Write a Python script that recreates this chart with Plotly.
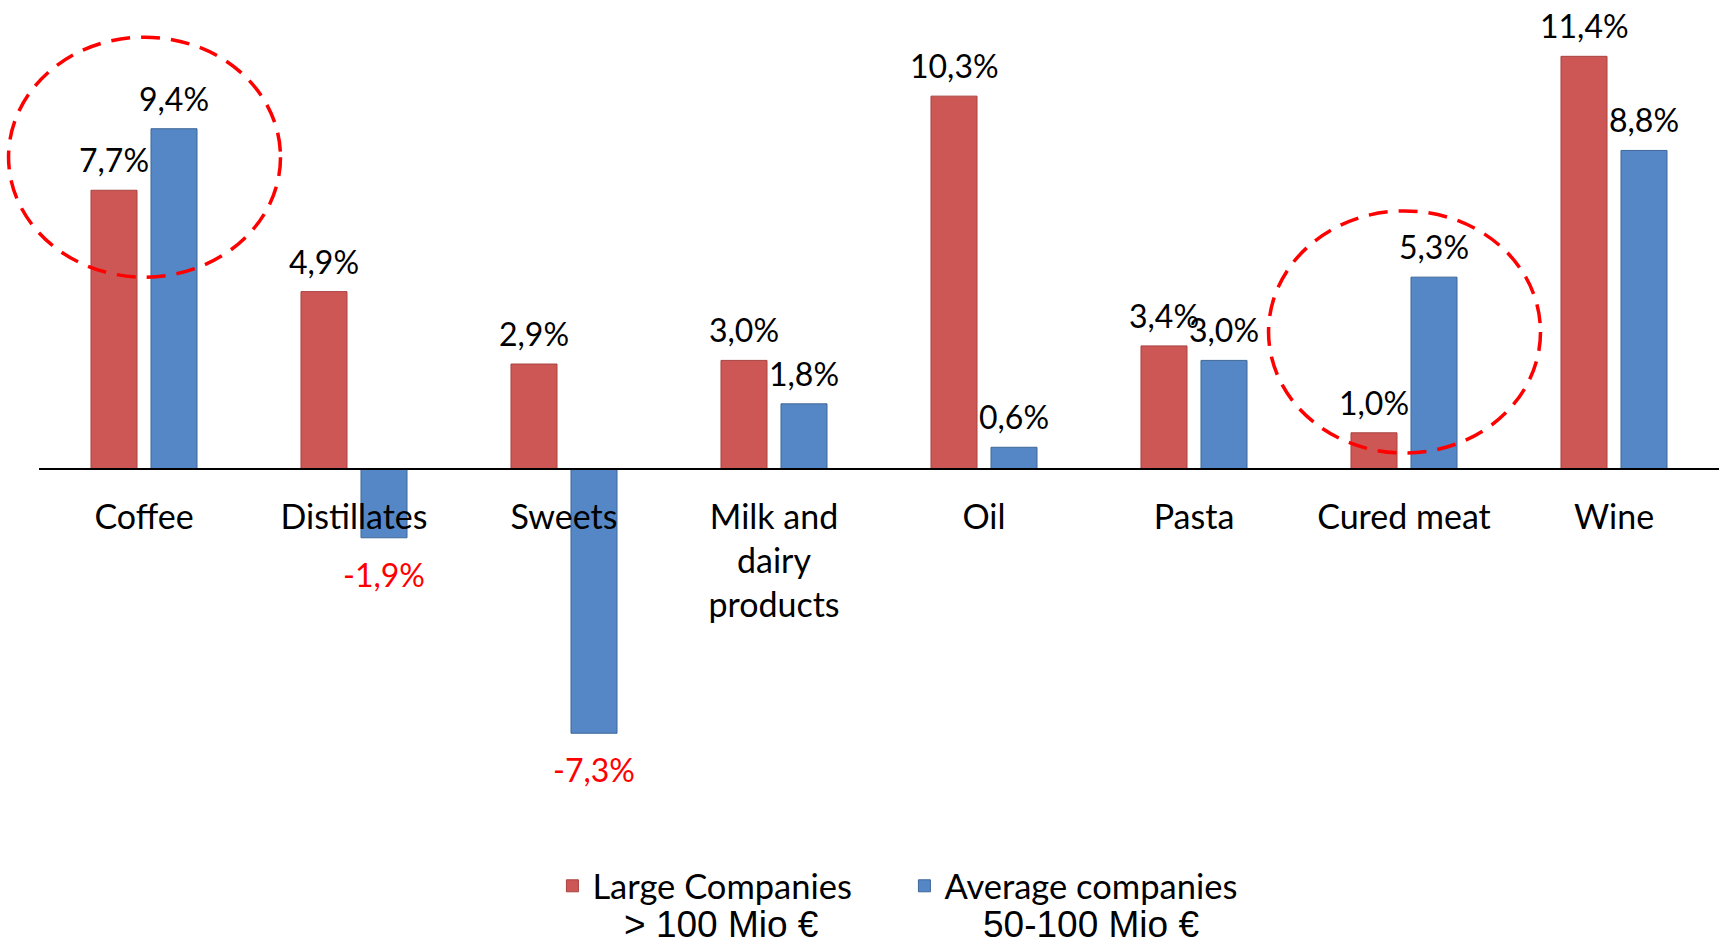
import plotly.graph_objects as go

# ---- data ----
categories = ["Coffee", "Distillates", "Sweets", "Milk and dairy products",
              "Oil", "Pasta", "Cured meat", "Wine"]
tick_labels = ["Coffee", "Distillates", "Sweets", "Milk and<br>dairy<br>products",
               "Oil", "Pasta", "Cured meat", "Wine"]
large_companies = [7.7, 4.9, 2.9, 3.0, 10.3, 3.4, 1.0, 11.4]
average_companies = [9.4, -1.9, -7.3, 1.8, 0.6, 3.0, 5.3, 8.8]
series_names = ["Large Companies", "Average companies"]
series_sub = ["> 100 Mio €", "50-100 Mio €"]
highlight = ["Coffee", "Cured meat"]

# ---- style ----
FONT = "Lato, Carlito, Calibri, sans-serif"
RED = "#CD5755"
BLUE = "#5586C5"
W, H = 1723, 945
ML, MR, MT, MB = 39, 4, 10, 145
PPU = 36.2  # pixels per percentage point
plot_h = H - MT - MB
ymax = (469 - MT) / PPU
ymin = ymax - plot_h / PPU
zero_pos = (0 - ymin) / (ymax - ymin)
n_cat = len(categories)


def fmt(v):
    return f"{v:.1f}".replace(".", ",") + "%"


def xpaper(xi):
    return (xi + 0.5) / n_cat


def ypaper(yv):
    return (yv - ymin) / (ymax - ymin)


fig = go.Figure()
fig.add_trace(go.Bar(x=categories, y=large_companies, name=series_names[0],
                     marker=dict(color=RED, line=dict(color="#A84341", width=1))))
fig.add_trace(go.Bar(x=categories, y=average_companies, name=series_names[1],
                     marker=dict(color=BLUE, line=dict(color="#3E6799", width=1))))

annotations = []
for vals, shift in ((large_companies, -30), (average_companies, 30)):
    for c, v in zip(categories, vals):
        pos = v >= 0
        annotations.append(dict(
            x=c, y=v, xref="x", yref="y", text=fmt(v), showarrow=False,
            xshift=shift, yshift=9 if pos else -15,
            yanchor="bottom" if pos else "top",
            font=dict(family=FONT, size=32, color="black" if pos else "#FF0000")))

# second line of the legend entries
for sub, xp in zip(series_sub, (0.4065, 0.626)):
    annotations.append(dict(x=xp, y=-0.157, xref="paper", yref="paper", text=sub,
                            showarrow=False, xanchor="center", yanchor="middle",
                            font=dict(family="Liberation Sans, Arial, sans-serif",
                                      size=37, color="black")))

shapes = []
ell_y = {"Coffee": (5.30, 11.93), "Cured meat": (0.44, 7.13)}
for c in highlight:
    i = categories.index(c)
    y0, y1 = ell_y[c]
    shapes.append(dict(type="circle", xref="paper", yref="paper",
                       x0=xpaper(i - 0.645), x1=xpaper(i + 0.65),
                       y0=ypaper(y0), y1=ypaper(y1),
                       line=dict(color="#FF0000", width=3.5, dash="19px,11px")))

fig.update_layout(
    width=W, height=H,
    margin=dict(l=ML, r=MR, t=MT, b=MB),
    paper_bgcolor="white", plot_bgcolor="white",
    barmode="group", bargap=0.4286, bargroupgap=0.233,
    font=dict(family=FONT, size=32, color="black"),
    xaxis=dict(type="category", range=[-0.5, n_cat - 0.5], anchor="free", position=zero_pos,
               tickvals=categories, ticktext=tick_labels,
               showline=True, linecolor="black", linewidth=2,
               ticks="outside", ticklen=18, tickcolor="rgba(0,0,0,0)",
               tickfont=dict(family=FONT, size=34, color="black"),
               showgrid=False, zeroline=False, fixedrange=True, automargin=False),
    yaxis=dict(range=[ymin, ymax], visible=False, showgrid=False, zeroline=False,
               automargin=False),
    legend=dict(orientation="h", x=0.3056, y=-0.072, xanchor="left", yanchor="top",
                font=dict(family=FONT, size=34.5, color="black"),
                entrywidth=307, entrywidthmode="pixels",
                bgcolor="rgba(0,0,0,0)"),
    annotations=annotations,
    shapes=shapes,
    showlegend=True,
)

fig.write_html("out.html", config={"displayModeBar": False},
               post_script="document.body.style.margin='0';document.body.style.overflow='hidden';")
